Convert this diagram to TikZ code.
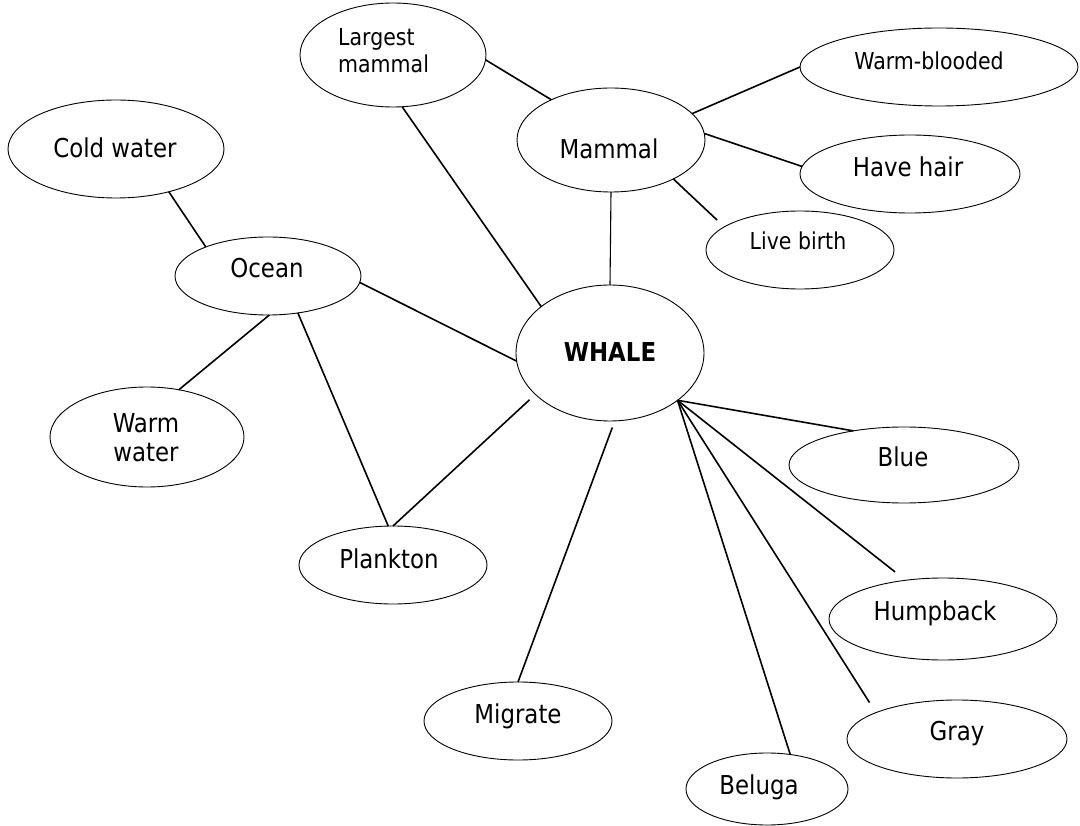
\documentclass[tikz,border=0pt]{standalone}
\usepackage{fontspec}
\setmainfont{DejaVu Sans}[FakeStretch=0.88]
\usetikzlibrary{shapes.geometric}
\begin{document}
\begin{tikzpicture}[x=1pt,y=-1pt,
  bub/.style={draw, ellipse, inner sep=0pt, outer sep=0pt, line width=0.9pt},
  lbl/.style={inner sep=0pt, anchor=base, font=\fontsize{26}{29}\selectfont},
  sml/.style={inner sep=0pt, anchor=base, font=\fontsize{23.3}{27}\selectfont},
  link/.style={line width=1.6pt}]
\useasboundingbox (0,0) rectangle (1080,826);
% ellipses
\node[bub, minimum width=186pt, minimum height=104pt] (lm) at (393,55) {};
\node[bub, minimum width=188pt, minimum height=104pt] (mammal) at (611,140) {};
\node[bub, minimum width=278pt, minimum height=78pt] (wb) at (939,67) {};
\node[bub, minimum width=220pt, minimum height=78pt] (hh) at (910,174) {};
\node[bub, minimum width=188pt, minimum height=78pt] (lb) at (800,250) {};
\node[bub, minimum width=216pt, minimum height=98pt] (cold) at (116,149) {};
\node[bub, minimum width=186pt, minimum height=78pt] (ocean) at (268,276) {};
\node[bub, minimum width=188pt, minimum height=136pt] (whale) at (610,353) {};
\node[bub, minimum width=194pt, minimum height=100pt] (ww) at (147,437) {};
\node[bub, minimum width=230pt, minimum height=76pt] (blue) at (904,465) {};
\node[bub, minimum width=228pt, minimum height=82pt] (hump) at (943,619) {};
\node[bub, minimum width=220pt, minimum height=78pt] (gray) at (957,739) {};
\node[bub, minimum width=162pt, minimum height=72pt] (bel) at (767,789) {};
\node[bub, minimum width=188pt, minimum height=78pt] (plank) at (393,565) {};
\node[bub, minimum width=188pt, minimum height=78pt] (mig) at (518,721) {};
% labels
\node[sml, anchor=base west, align=left] (lm-t) at (338,73) {Largest\\mammal};
\node[lbl] (mammal-t) at (609,159) {Mammal};
\node[sml] (wb-t) at (929,70) {Warm-blooded};
\node[lbl] (hh-t) at (908,177) {Have hair};
\node[sml] (lb-t) at (798,250) {Live birth};
\node[lbl] (cold-t) at (115,158) {Cold water};
\node[lbl] (ocean-t) at (267,278) {Ocean};
\node[lbl, font=\fontsize{26}{29}\selectfont\bfseries] (whale-t) at (610,362) {WHALE};
\node[lbl, align=center] (ww-t) at (146,462) {Warm\\water};
\node[lbl] (blue-t) at (903,467) {Blue};
\node[lbl] (hump-t) at (935,620) {Humpback};
\node[lbl] (gray-t) at (957,740) {Gray};
\node[lbl] (bel-t) at (759,794) {Beluga};
\node[lbl] (plank-t) at (389,568) {Plankton};
\node[lbl] (mig-t) at (518,723) {Migrate};
% connectors
\draw[link] (lm.-3) -- (mammal.146.7);
\draw[link] (lm.-80) -- (whale.146.7);
\draw[line width=1.1pt] (mammal.south) -- (whale.north);
\draw[link] (mammal.18.2) -- (wb.180);
\draw[link] (mammal.4.4) -- (hh.176.4);
\draw[link, shorten >=10pt] (mammal.-32.2) -- (lb.163);
\draw[link] (cold.-39.6) -- (ocean.155.3);
\draw[link] (ocean.-88.5) -- (ww.56);
\draw[link] (ocean.-51.5) -- (plank.97);
\draw[link] (ocean.-4.3) -- (whale.185.6);
\draw[link, shorten <=8pt] (whale.209.4) -- (plank.90);
\draw[link, shorten <=7pt] (whale.-86) -- (mig.north);
\draw[link] (whale.-35.8) -- (blue.146);
\draw[link, shorten >=13.5pt] (whale.-35.8) -- (hump.134);
\draw[link, shorten >=12pt] (whale.-35.8) -- (gray.162.6);
\draw[link] (whale.-35.8) -- (bel.56.7);
\end{tikzpicture}
\end{document}
